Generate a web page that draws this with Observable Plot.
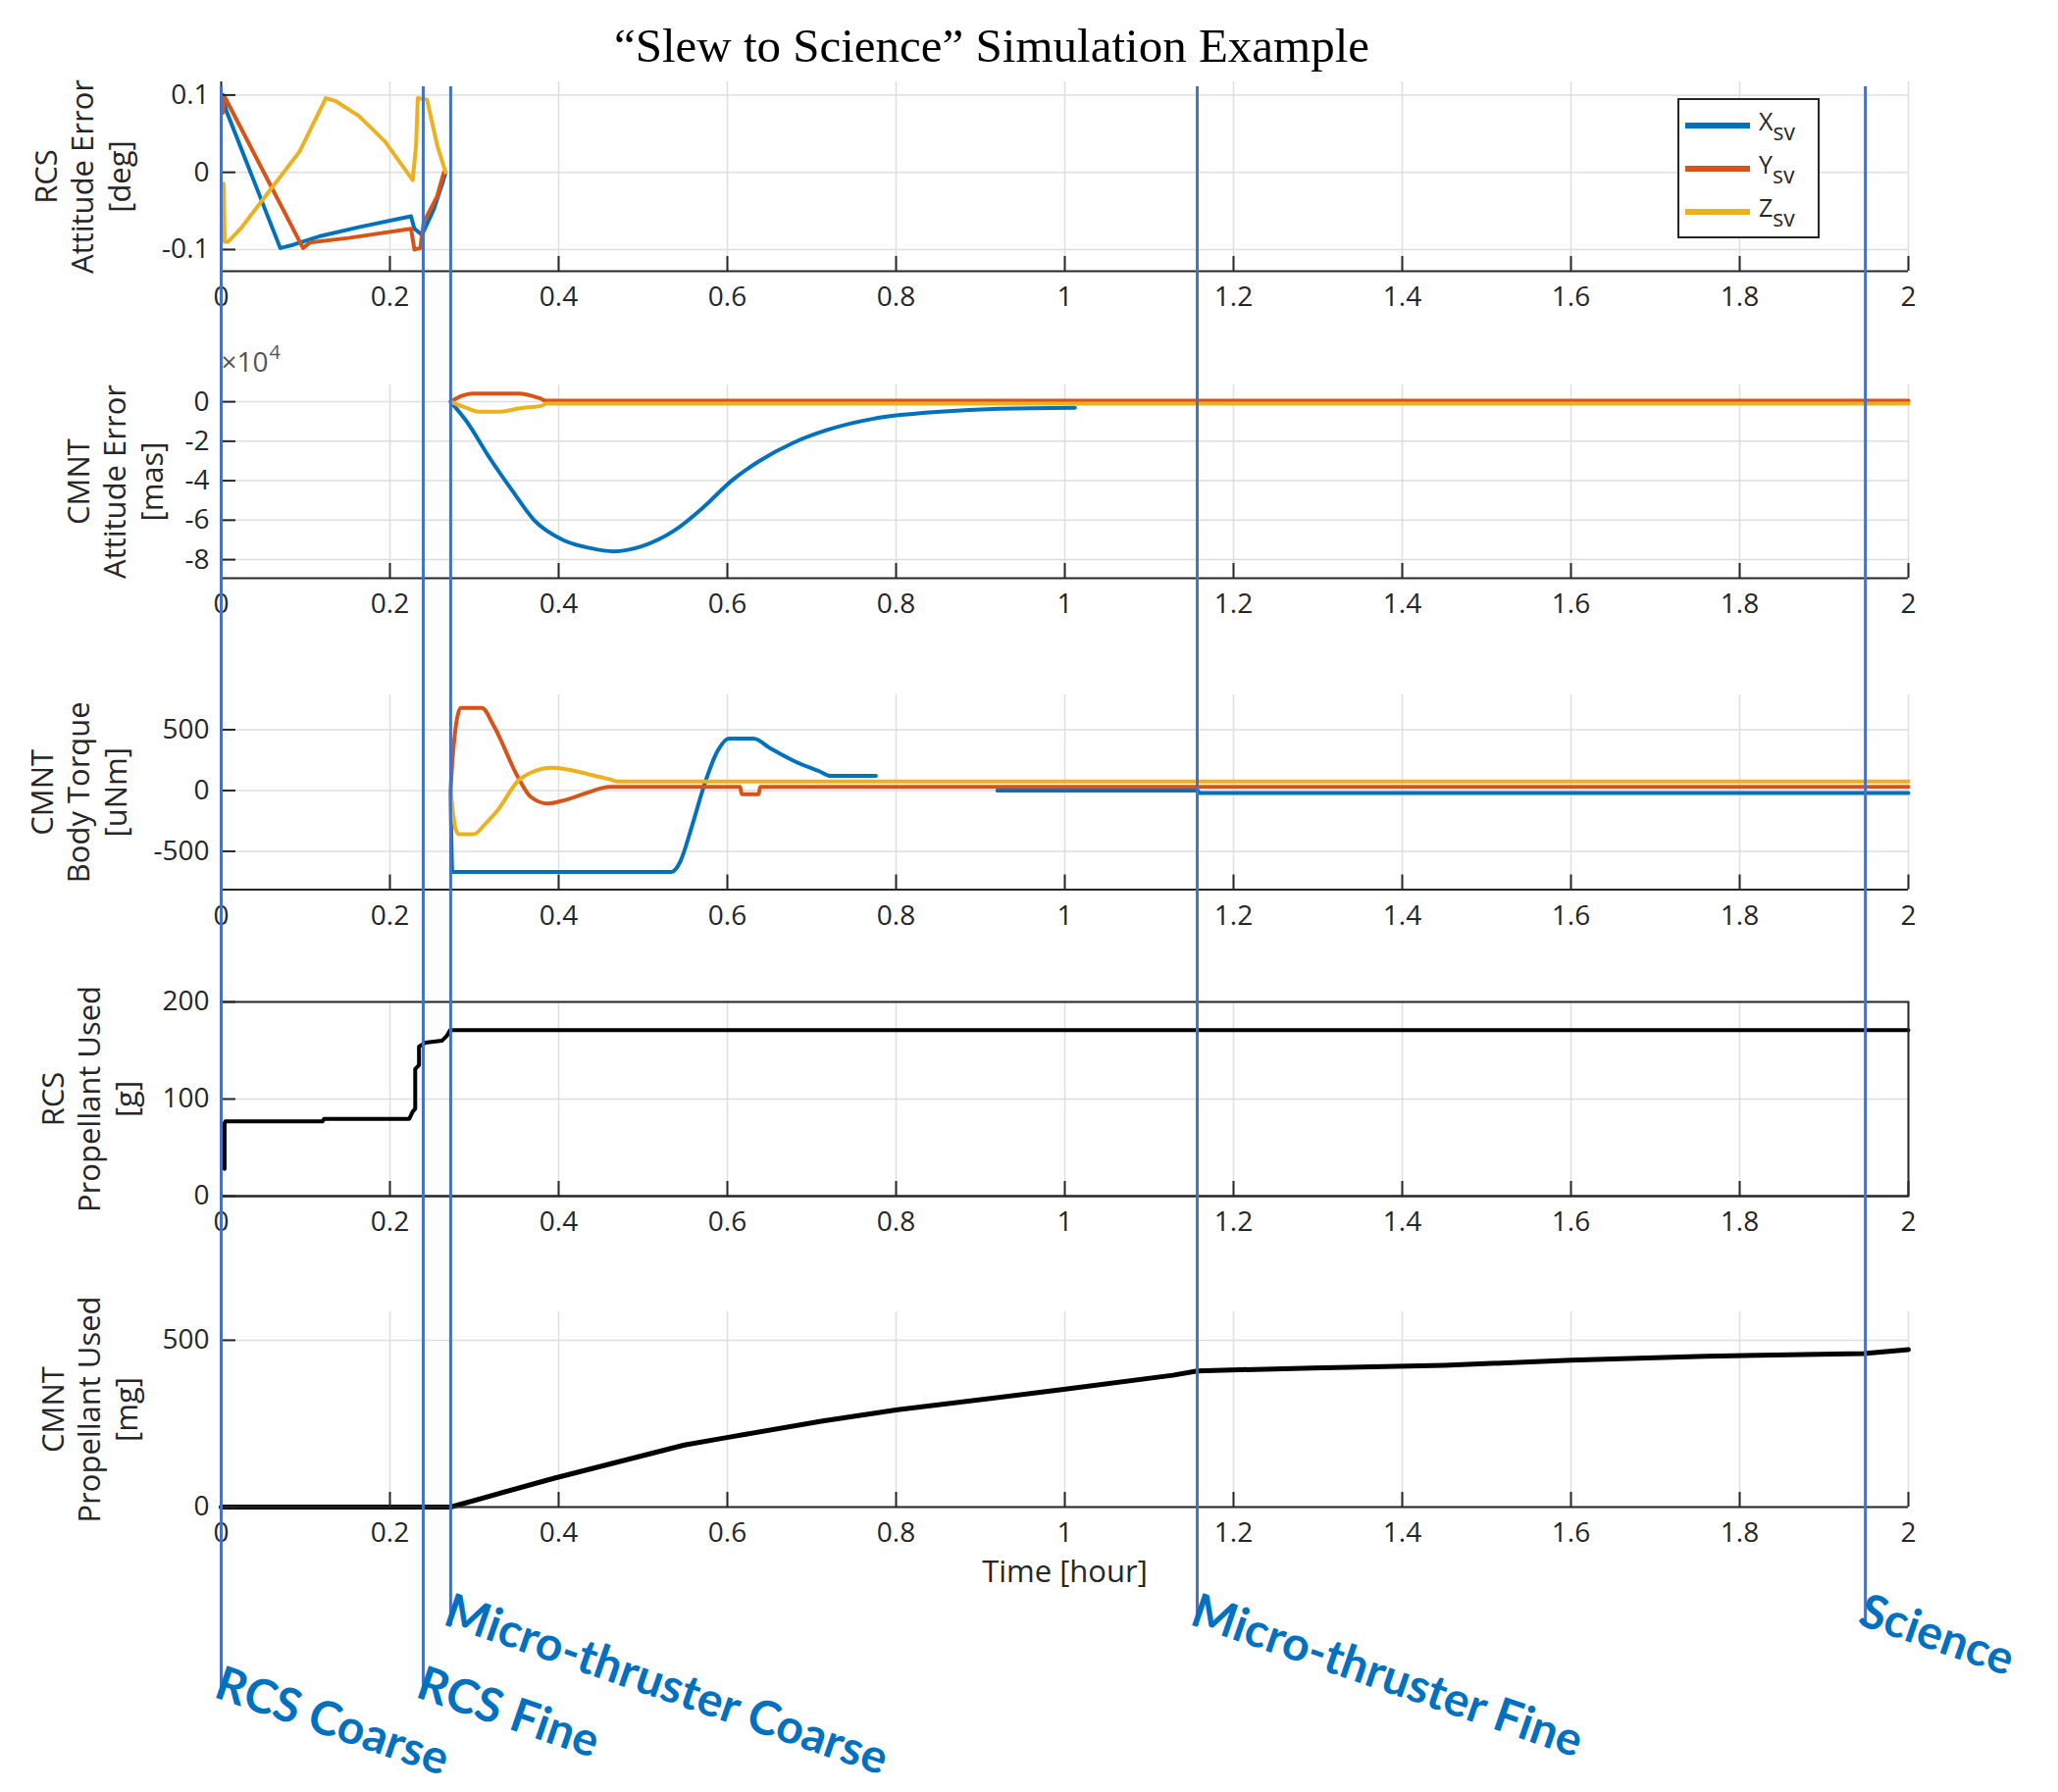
<!DOCTYPE html>
<html><head><meta charset="utf-8">
<script src="https://cdn.jsdelivr.net/npm/d3@7"></script>
<script src="https://cdn.jsdelivr.net/npm/@observablehq/plot@0.6"></script>
<style>
html,body{margin:0;padding:0;background:#fff;}
#root{position:relative;width:2098px;height:1827px;overflow:hidden;font-family:"Open Sans",sans-serif;}
.layer{position:absolute;left:0;}
#title{position:absolute;left:0;width:2022px;top:22px;text-align:center;font-family:"Liberation Serif","Times New Roman",serif;font-size:49px;line-height:1;color:#000;white-space:nowrap;}
#legend{position:absolute;left:1710px;top:100px;width:141px;height:139px;border:2px solid #262626;background:#fff;}
.lrow{position:absolute;left:0;height:40px;display:flex;align-items:center;}
.lbar{width:66px;height:6px;margin-left:6px;margin-right:9px;}
.ltxt{font-family:"Open Sans",sans-serif;font-size:25px;color:#262626;line-height:1;}
.ltxt sub{font-size:23px;vertical-align:-10px;}
</style></head>
<body><div id="root"><div id="title">“Slew to Science” Simulation Example</div></div>
<script>
// ---------- data ----------
const timeTicks = [0, 0.2, 0.4, 0.6, 0.8, 1, 1.2, 1.4, 1.6, 1.8, 2];
const axisNames = ["X", "Y", "Z"];
const axisColors = ["#0072BD", "#D95319", "#EDB120"];

// Panel 1: RCS attitude error [deg]
const rcsErrX_t = [0.002, 0.006, 0.070, 0.085, 0.116, 0.163, 0.225, 0.229, 0.238, 0.252, 0.262, 0.266];
const rcsErrX_v = [0.100, 0.080, -0.098, -0.094, -0.083, -0.071, -0.057, -0.073, -0.081, -0.048, -0.015, 0.000];
const rcsErrY_t = [0.002, 0.004, 0.097, 0.105, 0.151, 0.225, 0.229, 0.236, 0.240, 0.256, 0.264];
const rcsErrY_v = [0.077, 0.098, -0.098, -0.091, -0.085, -0.073, -0.100, -0.098, -0.065, -0.031, 0.000];
const rcsErrZ_t = [0.003, 0.004, 0.008, 0.023, 0.058, 0.093, 0.124, 0.136, 0.163, 0.194, 0.227, 0.231, 0.233, 0.244, 0.256, 0.266];
const rcsErrZ_v = [-0.015, -0.090, -0.090, -0.073, -0.023, 0.027, 0.096, 0.092, 0.073, 0.040, -0.010, 0.035, 0.096, 0.094, 0.035, 0.000];
const rcsErrTicks = [-0.1, 0, 0.1];

// Panel 2: CMNT attitude error [mas] (x10^4)
const cmntErrX_t = [0.272, 0.291, 0.318, 0.345, 0.371, 0.405, 0.438, 0.465, 0.498, 0.538, 0.572, 0.605, 0.638, 0.678, 0.719, 0.772, 0.805, 0.852, 0.925, 1.012];
const cmntErrX_v = [0, -1.0, -2.83, -4.5, -6.0, -7.0, -7.42, -7.58, -7.33, -6.5, -5.33, -4.0, -3.0, -2.08, -1.42, -0.87, -0.67, -0.5, -0.35, -0.3];
const cmntErrY_t = [0.272, 0.285, 0.298, 0.351, 0.378, 0.385, 2.0];
const cmntErrY_v = [0, 0.3, 0.42, 0.42, 0.17, 0.05, 0.05];
const cmntErrZ_t = [0.272, 0.29, 0.305, 0.331, 0.354, 0.38, 0.385, 2.0];
const cmntErrZ_v = [0, -0.3, -0.5, -0.5, -0.33, -0.2, -0.1, -0.1];
const cmntErrTicks = [-8, -6, -4, -2, 0];

// Panel 3: CMNT body torque [uNm]
const torqueX_t = [0.272, 0.274, 0.534, 0.544, 0.558, 0.573, 0.588, 0.602, 0.631, 0.651, 0.680, 0.710, 0.722, 0.776, 0.777, 0.920, 1.158, 1.159, 2.0];
const torqueX_v = [0, -670, -670, -587, -293, 53, 320, 427, 427, 347, 240, 155, 120, 120, null, 0, 0, -20, -20];
const torqueY_t = [0.272, 0.274, 0.284, 0.309, 0.323, 0.352, 0.367, 0.387, 0.407, 0.436, 0.460, 0.615, 0.617, 0.637, 0.639, 2.0];
const torqueY_v = [0, 240, 680, 680, 533, 107, -53, -107, -80, -13, 30, 30, -30, -30, 30, 30];
const torqueZ_t = [0.272, 0.278, 0.282, 0.299, 0.314, 0.328, 0.352, 0.367, 0.392, 0.410, 0.436, 0.460, 0.470, 2.0];
const torqueZ_v = [0, -320, -360, -360, -267, -160, 80, 147, 187, 173, 133, 93, 75, 75];
const torqueTicks = [-500, 0, 500];

// Panel 4: RCS propellant used [g]
const rcsProp_t = [0.004, 0.004, 0.005, 0.120, 0.122, 0.223, 0.227, 0.230, 0.230, 0.2345, 0.2345, 0.2422, 0.2616, 0.2674, 0.2713, 2.0];
const rcsProp_v = [28, 75, 77, 77, 79.6, 79.6, 87, 90, 131, 135, 154, 158, 160, 165, 171, 171];
const rcsPropTicks = [0, 100, 200];

// Panel 5: CMNT propellant used [mg]
const cmntProp_t = [0, 0.272, 0.394, 0.549, 0.601, 0.713, 0.802, 0.994, 1.128, 1.157, 1.294, 1.45, 1.6, 1.76, 1.947, 2.0];
const cmntProp_v = [0, 0, 86, 186, 209, 258, 292, 351, 395, 408, 417, 425, 440, 452, 460, 472];
const cmntPropTicks = [0, 500];

// Mode phases (start time in hours)
const phaseNames = ["RCS Coarse", "RCS Fine", "Micro-thruster Coarse", "Micro-thruster Fine", "Science"];
const phaseStarts = [0, 0.2395, 0.272, 1.157, 1.949];
const phaseLevels = [1, 1, 0, 0, 0];

// ---------- drawing ----------
const W = 2098, ML = 225, MR = 153, MT = 40, MB = 80;
const FW = W - ML - MR;
const AX = "#262626", GRID = "#dedede";
const fmt = d => String(+(+d).toFixed(3));
const rows = (t, v) => t.map((d, i) => ({t: d, v: v[i]}));
const root = document.getElementById("root");

function panel(cfg) {
  const frameH = cfg.bottom - cfg.top;
  const marks = [
    Plot.ruleX(timeTicks, {stroke: GRID, strokeWidth: 1.5}),
    Plot.ruleY(cfg.yTicks, {stroke: GRID, strokeWidth: 1.5}),
    ...cfg.lines.map(l => Plot.line(rows(l.t, l.v), {x: "t", y: "v", stroke: l.color, strokeWidth: l.width, curve: cfg.curve || "linear"})),
    Plot.ruleY([cfg.domain[0]], {stroke: AX, strokeWidth: 2}),
    Plot.ruleX([0], {stroke: AX, strokeWidth: 2}),
    Plot.ruleX(timeTicks, {stroke: AX, strokeWidth: 2, insetTop: frameH - 15}),
    Plot.ruleY(cfg.yTicks, {stroke: AX, strokeWidth: 2, insetRight: FW - 15}),
    Plot.text([cfg.ylabel], {text: d => d, frameAnchor: "left", dx: cfg.ylabelX - ML, rotate: -90,
      textAnchor: "middle", lineAnchor: "middle", lineHeight: 1.2, fontSize: 31, fill: AX}),
    ...(cfg.extra || [])
  ];
  const svg = Plot.plot({
    width: W, height: frameH + MT + MB,
    marginLeft: ML, marginRight: MR, marginTop: MT, marginBottom: MB,
    x: {domain: [0, 2], ticks: timeTicks, tickSize: 0, tickPadding: 16, tickFormat: fmt, label: null},
    y: {domain: cfg.domain, ticks: cfg.yTicks, tickSize: 0, tickPadding: 12, tickFormat: fmt, label: null},
    style: {background: "none", overflow: "visible", fontFamily: "'Open Sans', sans-serif", fontSize: "28px", color: AX},
    marks
  });
  const div = document.createElement("div");
  div.className = "layer";
  div.style.top = (cfg.top - MT) + "px";
  div.appendChild(svg);
  root.appendChild(div);
}

const xyz = (ts, vs, w) => ts.map((t, i) => ({t, v: vs[i], color: axisColors[i], width: w}));

panel({top: 83, bottom: 276, domain: [-0.128, 0.117], yTicks: rcsErrTicks,
  ylabel: "RCS\nAttitude Error\n[deg]", ylabelX: 83,
  lines: xyz([rcsErrX_t, rcsErrY_t, rcsErrZ_t], [rcsErrX_v, rcsErrY_v, rcsErrZ_v], 4)});

panel({top: 392, bottom: 589, domain: [-8.94, 0.85], yTicks: cmntErrTicks, curve: "monotone-x",
  ylabel: "CMNT\nAttitude Error\n[mas]", ylabelX: 116,
  lines: xyz([cmntErrX_t, cmntErrY_t, cmntErrZ_t], [cmntErrX_v, cmntErrY_v, cmntErrZ_v], 4),
  extra: [
    Plot.text(["×10"], {text: d => d, frameAnchor: "top-left", dy: -22, dx: 0, textAnchor: "start",
      lineAnchor: "middle", fontSize: 28, fill: "#555"}),
    Plot.text(["4"], {text: d => d, frameAnchor: "top-left", dy: -33, dx: 49, textAnchor: "start",
      lineAnchor: "middle", fontSize: 20, fill: "#555"})
  ]});

panel({top: 708, bottom: 906.5, domain: [-815, 786], yTicks: torqueTicks, curve: "monotone-x",
  ylabel: "CMNT\nBody Torque\n[uNm]", ylabelX: 79,
  lines: xyz([torqueX_t, torqueY_t, torqueZ_t], [torqueX_v, torqueY_v, torqueZ_v], 4)});

panel({top: 1021, bottom: 1219, domain: [0, 200], yTicks: rcsPropTicks,
  ylabel: "RCS\nPropellant Used\n[g]", ylabelX: 90,
  lines: [{t: rcsProp_t, v: rcsProp_v, color: "#000", width: 4}],
  extra: [Plot.frame({stroke: AX, strokeWidth: 2})]});

panel({top: 1337, bottom: 1536, domain: [0, 585], yTicks: cmntPropTicks,
  ylabel: "CMNT\nPropellant Used\n[mg]", ylabelX: 90,
  lines: [{t: cmntProp_t, v: cmntProp_v, color: "#000", width: 5}],
  extra: [Plot.text(["Time [hour]"], {text: d => d, frameAnchor: "bottom", dy: 67, lineAnchor: "middle",
    textAnchor: "middle", fontSize: 31, fill: AX})]});

// Legend
const legend = document.createElement("div");
legend.id = "legend";
axisNames.forEach((n, i) => {
  const r = document.createElement("div");
  r.className = "lrow";
  r.style.top = (6 + i * 44) + "px";
  r.innerHTML = `<div class="lbar" style="background:${axisColors[i]}"></div><div class="ltxt">${n}<sub>sv</sub></div>`;
  legend.appendChild(r);
});
root.appendChild(legend);

// Overlay with phase markers
const phases = phaseNames.map((name, i) => ({name, t: phaseStarts[i], level: phaseLevels[i]}));
const lower = phases.filter(d => d.level === 1), upper = phases.filter(d => d.level === 0);
const labelStyle = {x: "t", text: "name", frameAnchor: "bottom", rotate: 19, textAnchor: "start", lineAnchor: "top",
  fontSize: 48, fontWeight: "bold", fontFamily: "Lato, 'Open Sans', sans-serif", fill: "#0070C0"};
const overlay = Plot.plot({
  width: W, height: 1827, marginLeft: ML, marginRight: MR, marginTop: 88, marginBottom: 100,
  x: {domain: [0, 2], axis: null},
  style: {background: "none", overflow: "visible"},
  marks: [
    Plot.ruleX(lower, {x: "t", stroke: "#4472C4", strokeWidth: 3}),
    Plot.ruleX(upper, {x: "t", stroke: "#4472C4", strokeWidth: 3, insetBottom: 70}),
    Plot.text(lower, {...labelStyle, dy: -30, dx: 2}),
    Plot.text(upper, {...labelStyle, dy: -104, dx: 2})
  ]
});
const od = document.createElement("div");
od.className = "layer";
od.style.top = "0px";
od.appendChild(overlay);
root.appendChild(od);
</script></body></html>
